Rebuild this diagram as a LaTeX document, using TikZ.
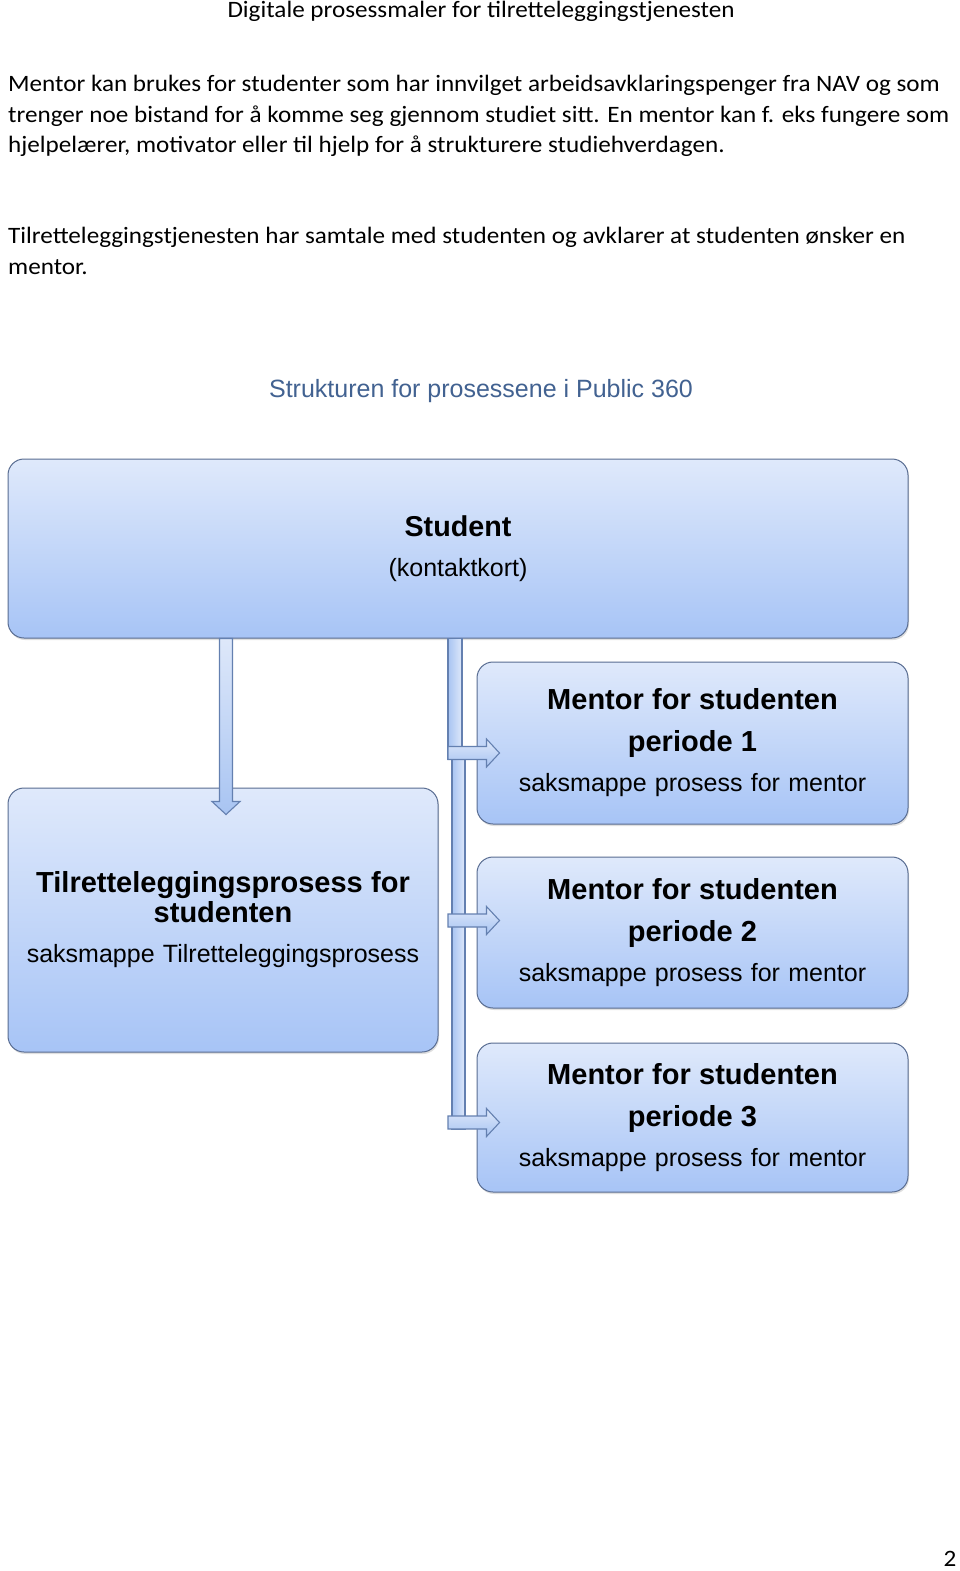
\documentclass[tikz,border=0pt]{standalone}
\usepackage{fontspec}
\setmainfont{Carlito}[FakeStretch=1.07]
\newfontfamily\arialfont{Liberation Sans}
\usetikzlibrary{calc,shadows}

\definecolor{boxtop}{RGB}{223,233,251}
\definecolor{boxbot}{RGB}{167,196,246}
\definecolor{arrtop}{RGB}{222,232,250}
\definecolor{arrbot}{RGB}{168,196,242}
\definecolor{edgecol}{RGB}{88,108,145}
\definecolor{arredge}{RGB}{100,128,176}
\definecolor{headblue}{RGB}{66,98,145}

\newcommand\titlefont{\fontsize{29}{43}\selectfont\bfseries}

\tikzset{
  bodytext/.style={anchor=north west, align=left, inner sep=0pt,
    font=\fontsize{23.5}{30.5}\selectfont},
  procbox/.style={draw=edgecol, line width=1pt, rounded corners=16pt,
    top color=boxtop, bottom color=boxbot, align=center, inner sep=0pt,
    font=\arialfont\fontsize{25}{40}\selectfont,
    drop shadow={shadow xshift=1pt, shadow yshift=-2pt, opacity=0.25}},
  trunkbar/.style={draw=arredge, line width=1.1pt, left color=arrbot, right color=arrtop},
  fatarrow/.style={draw=arredge, line width=1.1pt, line join=miter,
    top color=arrtop, bottom color=arrbot,
    to path={
      ($(\tikztostart)!6.5pt!90:(\tikztotarget)$)
      -- ($(\tikztotarget)!13pt!(\tikztostart)!6.5pt!-90:(\tikztostart)$)
      -- ($(\tikztotarget)!13pt!(\tikztostart)!14pt!-90:(\tikztostart)$)
      -- (\tikztotarget)
      -- ($(\tikztotarget)!13pt!(\tikztostart)!14pt!90:(\tikztostart)$)
      -- ($(\tikztotarget)!13pt!(\tikztostart)!6.5pt!90:(\tikztostart)$)
      -- ($(\tikztostart)!6.5pt!-90:(\tikztotarget)$)
      -- cycle}},
}

\begin{document}
\begin{tikzpicture}[x=1pt, y=-1pt]
\useasboundingbox[fill=white] (0,0) rectangle (960,1571);

% page text
\node[anchor=base, font=\fontsize{23.5}{28}\selectfont] (pagehead) at (481,18)
  {Digitale prosessmaler for tilretteleggingstjenesten};
\node[bodytext] (intro) at (8,75)
  {Mentor kan brukes for studenter som har innvilget arbeidsavklaringspenger fra NAV og som\\
   trenger noe bistand for å komme seg gjennom studiet sitt. En mentor kan f. eks fungere som\\
   hjelpelærer, motivator eller til hjelp for å strukturere studiehverdagen.};
\node[bodytext] (samtale) at (8,227)
  {Tilretteleggingstjenesten har samtale med studenten og avklarer at studenten ønsker en\\
   mentor.};
\node[anchor=base, text=headblue, font=\arialfont\fontsize{25}{30}\selectfont] (struktur) at (481,397)
  {Strukturen for prosessene i Public 360};
\node[anchor=base, font=\fontsize{23.5}{28}\selectfont] (pagenum) at (950,1566) {2};

% boxes
\node[procbox, minimum width=900pt, minimum height=179pt, text width=890pt] (student) at (458,548.5)
  {{\fontsize{28.7}{41}\selectfont\bfseries Student}\\
   (kontaktkort)};
\node[procbox, minimum width=430pt, minimum height=264pt, text width=424pt] (tilr) at (223,920)
  {{\titlefont Tilretteleggingsprosess for}\\[-10pt] {\titlefont studenten}\\
   saksmappe Tilretteleggingsprosess};
\node[procbox, minimum width=431pt, minimum height=162pt, text width=425pt] (m1) at (692.5,743)
  {{\titlefont Mentor for studenten}\\[2pt] {\titlefont periode 1}\\ saksmappe prosess for mentor};
\node[procbox, minimum width=431pt, minimum height=151pt, text width=425pt] (m2) at (692.5,932.5)
  {{\titlefont Mentor for studenten}\\[2pt] {\titlefont periode 2}\\ saksmappe prosess for mentor};
\node[procbox, minimum width=431pt, minimum height=149pt, text width=425pt] (m3) at (692.5,1117.5)
  {{\titlefont Mentor for studenten}\\[2pt] {\titlefont periode 3}\\ saksmappe prosess for mentor};

% connectors
\coordinate (dtop) at ([xshift=3pt]tilr.north |- student.south);
\coordinate (dtip) at ([xshift=3pt,yshift=-27pt]tilr.north);
\draw[fatarrow] (dtop) to (dtip);

\coordinate (trunk) at ([xshift=-3pt]student.south);
\coordinate (e1) at ([yshift=-10pt]m1.west);
\coordinate (e2) at ([yshift=12pt]m2.west);
\coordinate (e3) at ([yshift=-5pt]m3.west);
\draw[trunkbar] ([xshift=-7pt]trunk) rectangle ([xshift=7pt,yshift=-6.5pt]trunk |- e1);
\draw[trunkbar] ([xshift=-3pt,yshift=-6.5pt]trunk |- e1) rectangle ([xshift=10pt,yshift=-6.5pt]trunk |- e3);
\foreach \e in {e1,e2,e3}
  \draw[fatarrow] ([xshift=-7pt]trunk |- \e) to ([xshift=23pt]\e);
\end{tikzpicture}
\end{document}
